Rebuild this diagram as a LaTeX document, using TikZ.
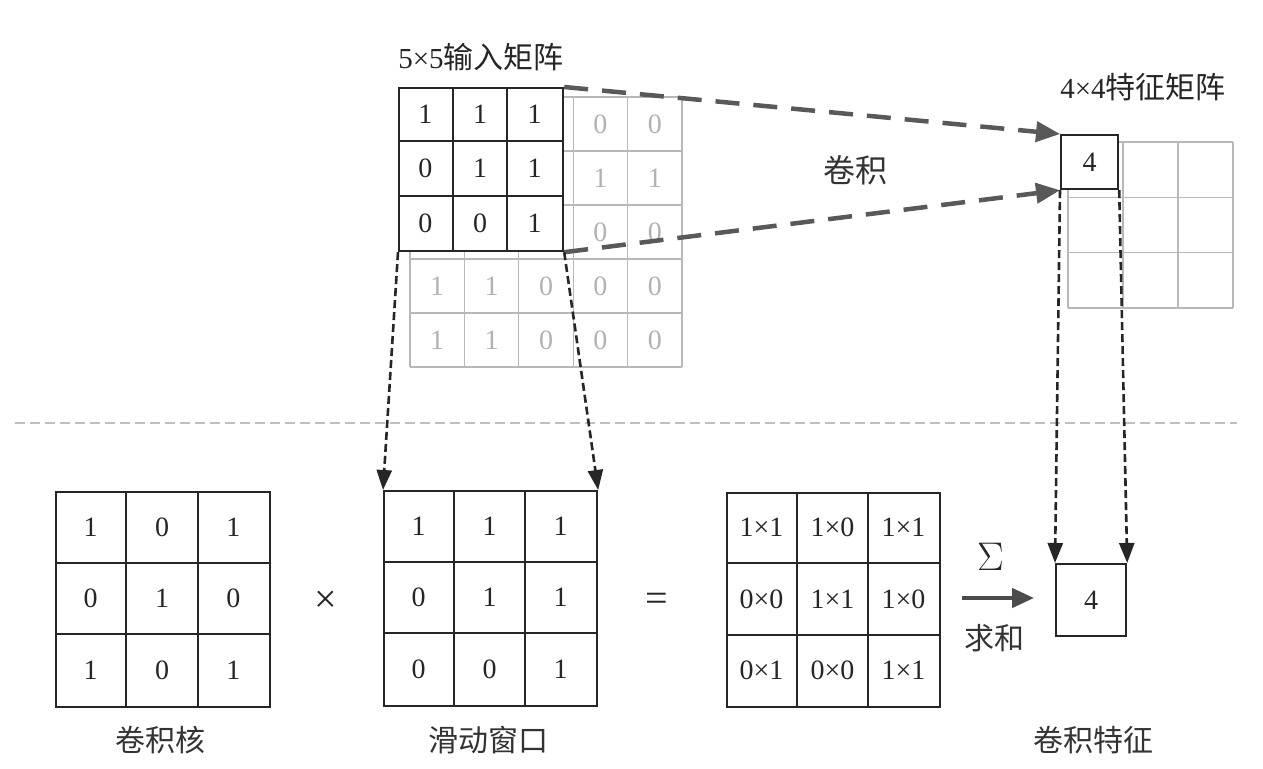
\documentclass[tikz,border=0pt]{standalone}
\usepackage{fontspec}
\setmainfont{Liberation Serif}
\newfontfamily\cjk{Noto Sans CJK SC}
\newfontfamily\lmr{Latin Modern Roman}
\usetikzlibrary{arrows.meta}
\newcommand\drawgrid[6]{%
  \node[dk, fill=white, inner sep=0pt, minimum width=#4pt, minimum height=#5pt, anchor=north west] (#1) at (#2,#3) {};
  \foreach \i in {1,2} {\draw[dk] ({#2+#4*\i/3},#3) -- ++(0,#5); \draw[dk] (#2,{#3+#5*\i/3}) -- ++(#4,0);}
  \foreach \v [count=\k from 0] in {#6} {\pgfmathtruncatemacro\cc{mod(\k,3)}\pgfmathtruncatemacro\rr{\k/3}
    \node[num] at ({#2+#4*(\cc+0.5)/3},{#3+#5*(\rr+0.5)/3}) {\v};}
}
\begin{document}
\begin{tikzpicture}[x=1pt,y=-1pt,
  dk/.style={draw=black!85, line width=2.2pt},
  lt/.style={draw=black!28, line width=1.3pt},
  num/.style={font=\fontsize{28}{30}\selectfont, text=black!85},
  lnum/.style={font=\fontsize{28}{30}\selectfont, text=black!30},
  lab/.style={font=\fontsize{31}{34}\selectfont, text=black!85},
  clab/.style={font=\cjk\fontsize{30}{34}\selectfont, text=black!80},
  bigdash/.style={draw=black!65, line width=4.5pt, dash pattern=on 24pt off 14pt, -{Triangle[length=24pt,width=20pt]}},
  vdash/.style={draw=black!85, line width=2.6pt, dash pattern=on 8pt off 4pt, -{Triangle[length=20pt,width=15pt]}},
  sumarrow/.style={draw=black!70, line width=4.5pt, -{Triangle[length=22pt,width=19pt]}}
]
\useasboundingbox[fill=white] (0,0) rectangle (1263,768);

% separator
\draw[draw=black!25, line width=1.5pt, dash pattern=on 10pt off 5pt] (15,423) -- (1237,423);

% light 5x5 input grid
\foreach \i in {0,...,5} {
  \draw[lt] ({410+54.4*\i},97) -- ++(0,270);
  \draw[lt] (410,{97+54*\i}) -- ++(272,0);
}
\foreach \c/\r/\v in {3/0/0,4/0/0,3/1/1,4/1/1,3/2/0,4/2/0,
  0/3/1,1/3/1,2/3/0,3/3/0,4/3/0,0/4/1,1/4/1,2/4/0,3/4/0,4/4/0}
  \node[lnum] at ({410+54.4*(\c+0.5)},{97+54*(\r+0.5)}) {\v};

% dark sliding window on input
\drawgrid{win}{398}{87}{164}{163}{1,1,1,0,1,1,0,0,1}

% light feature grid
\foreach \i in {0,...,3} {
  \draw[lt] ({1068+55*\i},142) -- ++(0,166);
  \draw[lt] (1068,{142+55.3*\i}) -- ++(165,0);
}
\node[dk, fill=white, inner sep=0pt, minimum width=57pt, minimum height=54pt, anchor=north west, num] (feat) at (1060,134) {4};

% bottom grids
\drawgrid{ker}{55}{491}{214}{215}{1,0,1,0,1,0,1,0,1}
\drawgrid{slide}{383}{490}{213}{215}{1,1,1,0,1,1,0,0,1}
\drawgrid{prod}{726}{492}{213}{214}{1×1,1×0,1×1,0×0,1×1,1×0,0×1,0×0,1×1}
\node[dk, fill=white, inner sep=0pt, minimum width=70pt, minimum height=72pt, anchor=north west, num] (sum) at (1055,563) {4};

% labels
\node[lab, font=\fontsize{29}{34}\selectfont] (t1) at (481,57) {5×5{\cjk\fontsize{30}{34}\selectfont 输入矩阵}};
\node[lab, font=\fontsize{29}{34}\selectfont] (t2) at (1143,87) {4×4{\cjk\fontsize{30}{34}\selectfont 特征矩阵}};
\node[clab, font=\cjk\fontsize{32}{34}\selectfont] (conv) at (855,170) {卷积};
\node[clab] (l1) at (160,740) {卷积核};
\node[clab] (l2) at (488,740) {滑动窗口};
\node[clab] (l3) at (1093,740) {卷积特征};
\node[clab] (l4) at (994,638) {求和};
\node[lab, font=\fontsize{40}{40}\selectfont] (times) at (326,602) {×};
\node[lab, font=\fontsize{40}{40}\selectfont] (eq) at (657,602) {=};
\node[lab, font=\lmr\fontsize{40}{40}\selectfont] (sig) at (991,557) {Σ};

% connectors
\draw[bigdash] (win.north east) -- (feat.north west);
\draw[bigdash] (win.south east) -- (feat.south west);
\draw[vdash] (win.south west) -- (slide.north west);
\draw[vdash] (win.south east) -- (slide.north east);
\draw[vdash] (feat.south west) -- (sum.north west);
\draw[vdash] (feat.south east) -- (sum.north east);
\coordinate (sa) at (962,598);
\coordinate (sb) at (1034,598);
\draw[sumarrow] (sa) -- (sb);
\end{tikzpicture}
\end{document}
